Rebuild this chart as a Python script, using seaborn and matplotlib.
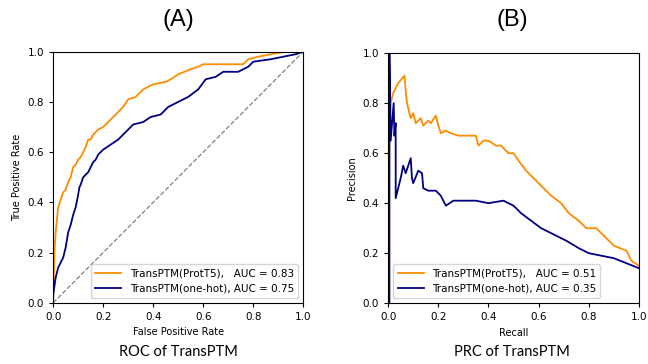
import numpy as np
import pandas as pd
import matplotlib
matplotlib.use("Agg")
import matplotlib.pyplot as plt
import seaborn as sns

# ROC curves
roc_t5_fpr = [0.0, 0.003, 0.005, 0.01, 0.015, 0.02, 0.03, 0.04, 0.05, 0.06, 0.07, 0.08, 0.09, 0.10,
              0.11, 0.12, 0.13, 0.14, 0.15, 0.16, 0.18, 0.20, 0.22, 0.25, 0.27, 0.28, 0.30, 0.33,
              0.35, 0.36, 0.38, 0.40, 0.45, 0.47, 0.50, 0.55, 0.58, 0.60, 0.70, 0.76, 0.78, 0.82,
              0.87, 0.93, 1.0]
roc_t5_tpr = [0.0, 0.12, 0.20, 0.28, 0.33, 0.38, 0.41, 0.44, 0.45, 0.48, 0.50, 0.54, 0.55, 0.57,
              0.58, 0.60, 0.62, 0.65, 0.65, 0.67, 0.69, 0.70, 0.72, 0.75, 0.77, 0.78, 0.81, 0.82,
              0.84, 0.85, 0.86, 0.87, 0.88, 0.89, 0.91, 0.93, 0.94, 0.95, 0.95, 0.95, 0.97, 0.98,
              0.99, 1.0, 1.0]
roc_oh_fpr = [0.0, 0.0, 0.01, 0.02, 0.03, 0.04, 0.05, 0.06, 0.07, 0.08, 0.09, 0.10, 0.105, 0.11,
              0.12, 0.13, 0.14, 0.16, 0.17, 0.18, 0.20, 0.23, 0.26, 0.29, 0.31, 0.32, 0.36, 0.39,
              0.43, 0.46, 0.50, 0.54, 0.58, 0.61, 0.65, 0.68, 0.74, 0.78, 0.80, 0.87, 0.92, 0.97, 1.0]
roc_oh_tpr = [0.0, 0.03, 0.10, 0.14, 0.16, 0.18, 0.22, 0.28, 0.31, 0.35, 0.38, 0.43, 0.46, 0.47,
              0.50, 0.51, 0.52, 0.56, 0.57, 0.59, 0.61, 0.63, 0.65, 0.68, 0.70, 0.71, 0.72, 0.74,
              0.75, 0.78, 0.80, 0.82, 0.85, 0.89, 0.90, 0.92, 0.92, 0.94, 0.96, 0.97, 0.98, 0.99, 1.0]

# PR curves
prc_t5_rec = [0.0, 0.003, 0.005, 0.01, 0.02, 0.04, 0.065, 0.07, 0.075, 0.08, 0.09, 0.10, 0.11, 0.12,
              0.13, 0.14, 0.15, 0.16, 0.17, 0.19, 0.20, 0.21, 0.23, 0.25, 0.28, 0.31, 0.35, 0.36,
              0.38, 0.40, 0.43, 0.45, 0.48, 0.50, 0.52, 0.55, 0.58, 0.62, 0.65, 0.69, 0.72, 0.76,
              0.79, 0.83, 0.86, 0.90, 0.95, 0.97, 1.0]
prc_t5_prec = [0.0, 0.40, 0.67, 0.80, 0.84, 0.88, 0.91, 0.85, 0.80, 0.78, 0.74, 0.76, 0.72, 0.73,
               0.74, 0.71, 0.72, 0.73, 0.72, 0.75, 0.71, 0.68, 0.69, 0.68, 0.67, 0.67, 0.67, 0.63,
               0.65, 0.65, 0.63, 0.63, 0.60, 0.60, 0.57, 0.53, 0.50, 0.46, 0.43, 0.40, 0.36, 0.33,
               0.30, 0.30, 0.27, 0.23, 0.21, 0.17, 0.15]
prc_oh_rec = [0.0, 0.005, 0.005, 0.01, 0.022, 0.025, 0.03, 0.03, 0.04, 0.05, 0.06, 0.07, 0.09,
              0.095, 0.10, 0.12, 0.135, 0.14, 0.16, 0.19, 0.21, 0.23, 0.26, 0.30, 0.35, 0.40,
              0.46, 0.50, 0.53, 0.57, 0.61, 0.67, 0.71, 0.76, 0.80, 0.85, 0.90, 0.95, 1.0]
prc_oh_prec = [0.0, 0.0, 1.0, 0.65, 0.80, 0.67, 0.72, 0.42, 0.46, 0.50, 0.55, 0.52, 0.58,
               0.50, 0.48, 0.53, 0.52, 0.46, 0.45, 0.45, 0.43, 0.39, 0.41, 0.41, 0.41, 0.40,
               0.41, 0.39, 0.36, 0.33, 0.30, 0.27, 0.25, 0.22, 0.20, 0.19, 0.18, 0.16, 0.14]

labels = ["TransPTM(ProtT5),   AUC = {:.2f}", "TransPTM(one-hot), AUC = {:.2f}"]
roc_auc = [0.83, 0.75]
prc_auc = [0.51, 0.35]
colors = ["darkorange", "navy"]

plt.rcParams['font.family'] = ['DejaVu Sans']
fig = plt.figure(figsize=(6.48, 3.64), dpi=100)
ax1 = fig.add_axes([0.082, 0.168, 0.386, 0.690])
ax2 = fig.add_axes([0.599, 0.167, 0.387, 0.687])

# ROC
sns.lineplot(x=roc_t5_fpr, y=roc_t5_tpr, ax=ax1, color=colors[0], lw=1.3, sort=False,
             estimator=None, label=labels[0].format(roc_auc[0]))
sns.lineplot(x=roc_oh_fpr, y=roc_oh_tpr, ax=ax1, color=colors[1], lw=1.3, sort=False,
             estimator=None, label=labels[1].format(roc_auc[1]))
ax1.plot([0, 1], [0, 1], color='gray', lw=0.9, ls='--')
ax1.set_xlim(0, 1)
ax1.set_ylim(0, 1)
ax1.set_xlabel("False Positive Rate", fontsize=7)
ax1.set_ylabel("True Positive Rate", fontsize=7)
ax1.legend(loc='lower right', fontsize=7.5, handlelength=2.5)

# PRC
sns.lineplot(x=prc_t5_rec, y=prc_t5_prec, ax=ax2, color=colors[0], lw=1.3, sort=False,
             estimator=None, label=labels[0].format(prc_auc[0]))
sns.lineplot(x=prc_oh_rec, y=prc_oh_prec, ax=ax2, color=colors[1], lw=1.3, sort=False,
             estimator=None, label=labels[1].format(prc_auc[1]))
ax2.set_xlim(0, 1)
ax2.set_ylim(0, 1)
ax2.set_xlabel("Recall", fontsize=7)
ax2.set_ylabel("Precision", fontsize=7)
ax2.legend(loc='lower left', fontsize=7.5, handlelength=2.5)

for ax in (ax1, ax2):
    ax.tick_params(labelsize=7.5, length=3)
    ax.set_xticks(np.arange(0, 1.01, 0.2))
    ax.set_yticks(np.arange(0, 1.01, 0.2))

fig.text(0.275, 0.945, "(A)", ha='center', va='center', fontsize=17, family='Liberation Sans')
fig.text(0.790, 0.945, "(B)", ha='center', va='center', fontsize=17, family='Liberation Sans')
fig.text(0.275, 0.033, "ROC of TransPTM", ha='center', va='center', fontsize=10.5, family='Lato')
fig.text(0.790, 0.033, "PRC of TransPTM", ha='center', va='center', fontsize=10.5, family='Lato')

fig.savefig("out.png", dpi=100)
